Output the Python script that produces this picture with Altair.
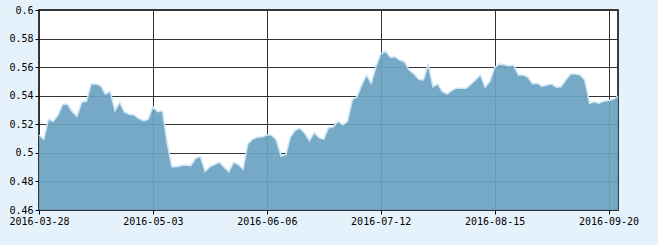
import altair as alt
import pandas as pd

# trading-day index -> value (2016-03-28 .. 2016-09-22)
values = [
    0.5125, 0.5095, 0.5237, 0.5220, 0.5265, 0.5340, 0.5340, 0.5288, 0.5256, 0.5356,
    0.5360, 0.5482, 0.5482, 0.5470, 0.5410, 0.5430, 0.5295, 0.5354, 0.5284, 0.5270,
    0.5265, 0.5242, 0.5225, 0.5235, 0.5323, 0.5288, 0.5295, 0.5070, 0.4903, 0.4903,
    0.4912, 0.4915, 0.4910, 0.4962, 0.4975, 0.4870, 0.4903, 0.4918, 0.4934, 0.4900,
    0.4868, 0.4934, 0.4918, 0.4885, 0.5062, 0.5095, 0.5110, 0.5113, 0.5125, 0.5125,
    0.5090, 0.4978, 0.4988, 0.5113, 0.5158, 0.5172, 0.5137, 0.5085, 0.5141, 0.5106,
    0.5095, 0.5176, 0.5183, 0.5220, 0.5197, 0.5220, 0.5370, 0.5393, 0.5475, 0.5545,
    0.5487, 0.5603, 0.5692, 0.5713, 0.5669, 0.5673, 0.5650, 0.5638, 0.5580, 0.5552,
    0.5515, 0.5510, 0.5622, 0.5463, 0.5482, 0.5428, 0.5412, 0.5438, 0.5452, 0.5452,
    0.5452, 0.5480, 0.5512, 0.5545, 0.5459, 0.5500, 0.5597, 0.5622, 0.5617, 0.5608,
    0.5615, 0.5545, 0.5545, 0.5530, 0.5482, 0.5487, 0.5465, 0.5475, 0.5482, 0.5459,
    0.5463, 0.5510, 0.5552, 0.5552, 0.5545, 0.5510, 0.5347, 0.5358, 0.5347, 0.5362,
    0.5366, 0.5376, 0.5395,
]
tick_index = [0, 24, 48, 72, 96, 120]
tick_labels = ["2016-03-28", "2016-05-03", "2016-06-06", "2016-07-12", "2016-08-15", "2016-09-20"]
y_ticks = [0.46, 0.48, 0.5, 0.52, 0.54, 0.56, 0.58, 0.6]

df = pd.DataFrame({"i": list(range(len(values))), "v": values})

label_map = "{" + ",".join(f"'{i}':'{l}'" for i, l in zip(tick_index, tick_labels)) + "}"

x_scale = alt.Scale(domain=[0, len(values) - 1], nice=False, zero=False)
y_scale = alt.Scale(domain=[0.46, 0.6], nice=False, zero=False)
x_axis = alt.Axis(values=tick_index, labelExpr=f"{label_map}[''+datum.value]",
                  title=None, grid=True, gridColor="#333333", gridWidth=1,
                  domain=False, tickColor="#000000", tickSize=4,
                  labelFont="DejaVu Sans Mono", labelFontSize=10, labelColor="#000000",
                  labelPadding=2, labelFlush=False)
y_axis = alt.Axis(values=y_ticks, format=".2~f", title=None, grid=True,
                  gridColor="#333333", gridWidth=1, domain=False,
                  tickColor="#000000", tickSize=4,
                  labelFont="DejaVu Sans Mono", labelFontSize=10, labelColor="#000000",
                  labelPadding=2)
x = alt.X("i:Q", scale=x_scale, axis=x_axis)
y = alt.Y("v:Q", scale=y_scale, axis=y_axis)

area = alt.Chart(df).mark_area(color="#6ca2c2", opacity=0.93).encode(
    x=x, y=y, y2=alt.datum(0.46))
line = alt.Chart(df).mark_line(color="#cde6f5", strokeWidth=1.5).encode(x=x, y=y)

chart = alt.layer(area, line).properties(
    width=579, height=200, background="#e6f2fb",
    autosize=alt.AutoSizeParams(type="none"),
    padding={"left": 39, "top": 10, "right": 40, "bottom": 35},
).configure_view(stroke="#000000", strokeWidth=1.5, fill="#ffffff")

chart.save("out.html", embed_options={"renderer": "svg", "actions": False})
